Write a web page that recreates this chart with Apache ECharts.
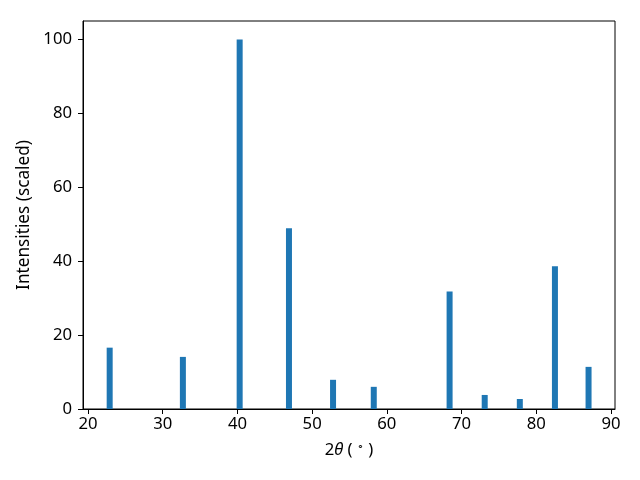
<!DOCTYPE html>
<html><head><meta charset="utf-8">
<script src="https://cdn.jsdelivr.net/npm/echarts@6/dist/echarts.min.js"></script>
<style>html,body{margin:0;padding:0;background:#fff}#c{width:640px;height:480px}</style>
</head><body><div id="c"></div>
<script>
const angles = [22.9, 32.7, 40.3, 46.9, 52.8, 58.25, 68.4, 73.1, 77.8, 82.5, 87.0];
const intensities = [16.6, 14.1, 100, 48.9, 7.9, 6.0, 31.8, 3.8, 2.7, 38.6, 11.4];
const xTicks = [20, 30, 40, 50, 60, 70, 80, 90];
const yTicks = [0, 20, 40, 60, 80, 100];

const chart = echarts.init(document.getElementById('c'));
const font = 'Noto Sans';
const fs = 16.7;
chart.setOption({
  animation: false,
  backgroundColor: '#fff',
  grid: {left: 83, right: 25, top: 21, bottom: 71, show: true, borderColor: '#000', borderWidth: 1, backgroundColor: 'transparent'},
  xAxis: {
    type: 'value', min: 19.33, max: 90.54,
    name: '2{i|θ} ( {s|∘} )', nameLocation: 'middle', nameGap: 32,
    nameTextStyle: {fontFamily: font, fontSize: fs, color: '#000',
      rich: {i: {fontStyle: 'italic', fontFamily: font, fontSize: fs, color: '#000'}, s: {fontFamily: font, fontSize: 11, color: '#000', verticalAlign: 'top', padding: [0,0,7,0]}}},
    axisLine: {show: true, onZero: false, lineStyle: {color: '#000', width: 1}},
    axisTick: {show: true, length: 5, lineStyle: {color: '#000'}, customValues: xTicks},
    axisLabel: {fontFamily: font, fontSize: fs, color: '#000', margin: 7, customValues: xTicks},
    splitLine: {show: false}
  },
  yAxis: {
    type: 'value', min: 0, max: 105,
    name: 'Intensities (scaled)', nameLocation: 'middle', nameGap: 48,
    nameTextStyle: {fontFamily: font, fontSize: 17.2, color: '#000'},
    axisLine: {show: true, lineStyle: {color: '#000', width: 1}},
    axisTick: {show: true, length: 5, lineStyle: {color: '#000'}, customValues: yTicks},
    axisLabel: {fontFamily: font, fontSize: fs, color: '#000', margin: 11, customValues: yTicks},
    splitLine: {show: false}
  },
  series: [{
    type: 'bar',
    data: angles.map((a, i) => [a, intensities[i]]),
    barWidth: 6,
    itemStyle: {color: '#1f77b4'}
  }]
});
</script></body></html>
